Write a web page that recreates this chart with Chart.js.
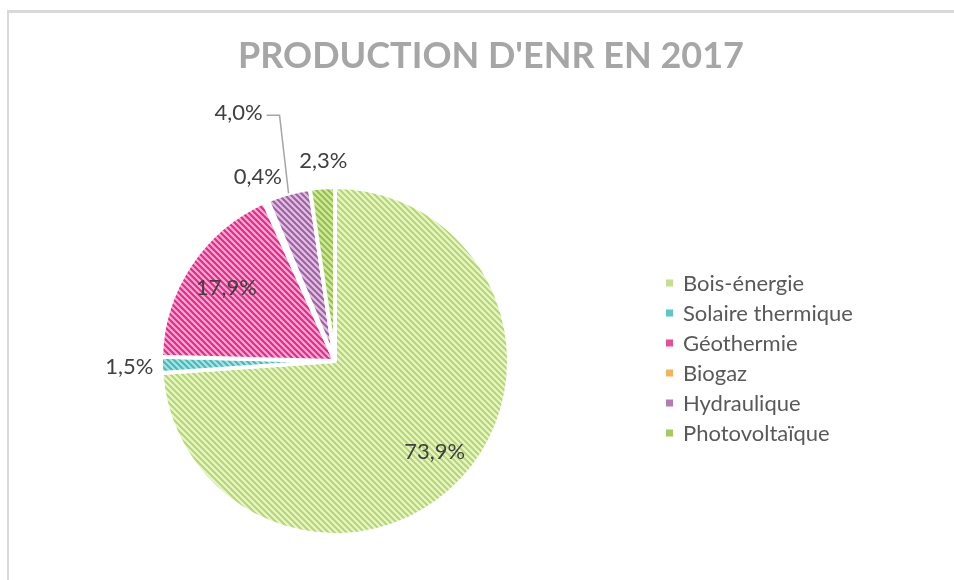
<!DOCTYPE html>
<html lang="fr">
<head>
<meta charset="utf-8">
<title>Production d'EnR en 2017</title>
<script src="https://cdn.jsdelivr.net/npm/chart.js@4.4.1/dist/chart.umd.min.js"></script>
<style>
    html, body { margin: 0; padding: 0; background: #fff; }
    #wrap { position: relative; width: 954px; height: 580px; overflow: hidden; }
    #frame { position: absolute; left: 7px; top: 10px; width: 1000px; height: 620px;
             border-left: 2px solid #d9d9d9; border-top: 3px solid #d9d9d9; }
    #chart { position: absolute; left: 0; top: 0; }
</style>
</head>
<body>
<div id="wrap">
    <div id="frame"></div>
    <canvas id="chart" width="954" height="580"></canvas>
</div>
<script>
// Data
const chartTitle = "PRODUCTION D'ENR EN 2017";
const categories = ['Bois-énergie', 'Solaire thermique', 'Géothermie', 'Biogaz', 'Hydraulique', 'Photovoltaïque'];
const shares = [73.9, 1.5, 17.9, 0.4, 4.0, 2.3];

// Styles
const stripeColors = ['#b4d866', '#3dbcbc', '#e62689', '#f4a43c', '#a45aa9', '#95c23c'];
const baseColors = ['#e8f4cc', '#a9e2e2', '#f6a9cf', '#fbd6a0', '#dcc2df', '#d0e8a6'];
const legendColors = ['#c4e08a', '#5cc7c7', '#ea4c9b', '#f6b35c', '#b679b9', '#a5cb5a'];
const labelRadius = [0.76, 1.2, 0.77, 1.16, null, 1.16]; // null = leader line label
const textGray = '#404040';
const legendGray = '#595959';

const canvas = document.getElementById('chart');
const ctx = canvas.getContext('2d');

function makePattern(base, stripe) {
    const size = 6;
    const c = document.createElement('canvas');
    c.width = size;
    c.height = size;
    const g = c.getContext('2d');
    g.fillStyle = base;
    g.fillRect(0, 0, size, size);
    g.strokeStyle = stripe;
    g.lineWidth = 2;
    g.beginPath();
    g.moveTo(-1, -1); g.lineTo(size + 1, size + 1);
    g.moveTo(-1, size - 1); g.lineTo(1, size + 1);
    g.moveTo(size - 1, -1); g.lineTo(size + 1, 1);
    g.stroke();
    return ctx.createPattern(c, 'repeat');
}

const patterns = categories.map((_, i) => makePattern(baseColors[i], stripeColors[i]));

function formatShare(v) {
    return v.toFixed(1).replace('.', ',') + '%';
}

// Percent labels, placed from each arc's geometry
const valueLabelsPlugin = {
    id: 'valueLabels',
    afterDatasetsDraw(chart) {
        const c = chart.ctx;
        const arcs = chart.getDatasetMeta(0).data;
        c.save();
        c.font = '22px Lato';
        c.fillStyle = textGray;
        c.textBaseline = 'alphabetic';
        arcs.forEach((arc, i) => {
            const { x, y, startAngle, endAngle, outerRadius } = arc.getProps(['x', 'y', 'startAngle', 'endAngle', 'outerRadius'], true);
            const mid = (startAngle + endAngle) / 2;
            const text = formatShare(shares[i]);
            if (labelRadius[i] === null) {
                const px = x + Math.cos(mid) * outerRadius;
                const py = y + Math.sin(mid) * outerRadius;
                const ex = px - 9, ey = py - 78;
                c.strokeStyle = '#a6a6a6';
                c.lineWidth = 1.5;
                c.beginPath();
                c.moveTo(px, py);
                c.lineTo(ex, ey);
                c.lineTo(ex - 13, ey);
                c.stroke();
                c.textAlign = 'right';
                c.fillText(text, ex - 17, ey + 5);
            } else {
                const r = outerRadius * labelRadius[i];
                c.textAlign = 'center';
                c.fillText(text, x + Math.cos(mid) * r + 3, y + Math.sin(mid) * r + 8);
            }
        });
        c.restore();
    }
};

// Title and legend
const titleLegendPlugin = {
    id: 'titleLegend',
    afterDraw(chart) {
        const c = chart.ctx;
        c.save();
        c.font = 'bold 36px Lato';
        c.fillStyle = '#a6a6a6';
        c.textAlign = 'center';
        c.textBaseline = 'alphabetic';
        c.fillText(chartTitle, 491, 68);

        c.font = '22px Lato';
        c.textAlign = 'left';
        categories.forEach((name, i) => {
            const rowY = 283 + i * 30;
            c.fillStyle = legendColors[i];
            c.fillRect(666, rowY - 3.5, 7, 7);
            c.fillStyle = legendGray;
            c.fillText(name, 683, rowY + 8);
        });
        c.restore();
    }
};

new Chart(ctx, {
    type: 'pie',
    data: {
        labels: categories,
        datasets: [{
            data: shares,
            backgroundColor: patterns,
            borderColor: '#ffffff',
            borderWidth: 4,
            hoverOffset: 0
        }]
    },
    options: {
        responsive: false,
        animation: false,
        events: [],
        layout: { padding: { left: 159, top: 185, right: 443, bottom: 43 } },
        plugins: {
            legend: { display: false },
            title: { display: false },
            tooltip: { enabled: false }
        }
    },
    plugins: [valueLabelsPlugin, titleLegendPlugin]
});
</script>
</body>
</html>
